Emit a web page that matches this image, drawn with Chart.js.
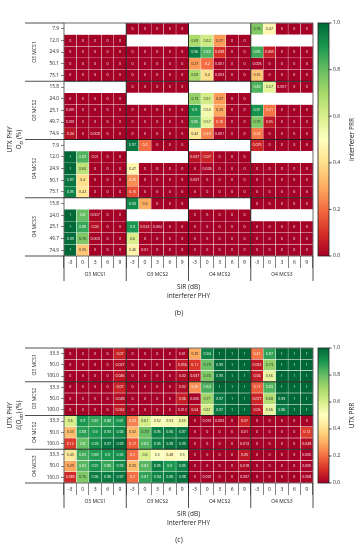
<!DOCTYPE html>
<html>
<head>
<meta charset="utf-8">
<script src="https://cdn.jsdelivr.net/npm/chart.js@4.4.0/dist/chart.umd.min.js"></script>
<style>
  html, body { margin: 0; padding: 0; background: #fff; }
  canvas { display: block; }
</style>
</head>
<body>
<canvas id="chartB" width="358" height="325"></canvas>
<canvas id="chartC" width="358" height="225"></canvas>
<script>
// axes
const sirLabels = ['-3', '0', '3', '6', '9'];
const phyGroups = ['O3 MCS1', 'O3 MCS2', 'O4 MCS2', 'O4 MCS3'];

// (b) frame occupancy of each UTX PHY row
const otxB = [
  ['7.9', '12.0', '24.9', '50.1', '75.1'],
  ['15.8', '24.0', '25.1', '49.7', '74.9'],
  ['7.9', '12.0', '24.9', '50.1', '75.1'],
  ['15.8', '24.0', '25.1', '49.7', '74.9']
];
// (c) expected occupancy per UTX PHY
const otxC = ['33.3', '50.0', '100.0'];

const _ = null; // not measured
// (b) interferer PRR, one row per UTX setting, columns = interferer PHY x SIR
const prrB = [
  [_, _, _, _, _,  0, 0, 0, 0, 0,  _, _, _, _, _,  0.76, 0.47, 0, 0, 0],
  [0, 0, 0, 0, 0,  _, _, _, _, _,  0.69, 0.62, 0.27, 0, 0,  _, _, _, _, _],
  [0, 0, 0, 0, 0,  0, 0, 0, 0, 0,  0.96, 0.83, 0.098, 0, 0,  0.85, 0.065, 0, 0, 0],
  [0, 0, 0, 0, 0,  0, 0, 0, 0, 0,  0.27, 0.2, 0.001, 0, 0,  0.005, 0, 0, 0, 0],
  [0, 0, 0, 0, 0,  0, 0, 0, 0, 0,  0.69, 0.4, 0.003, 0, 0,  0.35, 0, 0, 0, 0],

  [_, _, _, _, _,  0, 0, 0, 0, 0,  _, _, _, _, _,  0.83, 0.57, 0.007, 0, 0],
  [0, 0, 0, 0, 0,  _, _, _, _, _,  0.73, 0.61, 0.27, 0, 0,  _, _, _, _, _],
  [0.001, 0, 0, 0, 0,  0, 0, 0, 0, 0,  0.9, 0.53, 0.29, 0, 0,  0.91, 0.21, 0, 0, 0],
  [0.001, 0, 0, 0, 0,  0, 0, 0, 0, 0,  0.85, 0.57, 0.16, 0, 0,  0.76, 0.05, 0, 0, 0],
  [0.04, 0, 0.008, 0, 0,  0, 0, 0, 0, 0,  0.42, 0.23, 0.001, 0, 0,  0.22, 0, 0, 0, 0],

  [_, _, _, _, _,  0.97, 0.2, 0, 0, 0,  _, _, _, _, _,  0.075, 0, 0, 0, 0],
  [1, 0.83, 0.01, 0, 0,  _, _, _, _, _,  0.037, 0.07, 0, 0, 0,  _, _, _, _, _],
  [1, 0.66, 0, 0, 0,  0.47, 0, 0, 0, 0,  0, 0.005, 0, 0, 0,  0, 0, 0, 0, 0],
  [0.97, 0.4, 0, 0, 0,  0.25, 0, 0, 0, 0,  0.007, 0, 0, 0, 0,  0, 0, 0, 0, 0],
  [0.95, 0.42, 0, 0, 0,  0.15, 0, 0, 0, 0,  0, 0, 0, 0, 0,  0, 0, 0, 0, 0],

  [_, _, _, _, _,  0.93, 0.3, 0, 0, 0,  _, _, _, _, _,  0, 0, 0, 0, 0],
  [1, 0.8, 0.007, 0, 0,  _, _, _, _, _,  0, 0, 0, 0, 0,  _, _, _, _, _],
  [1, 0.86, 0.03, 0, 0,  0.9, 0.022, 0.002, 0, 0,  0, 0, 0, 0, 0,  0, 0, 0, 0, 0],
  [0.99, 0.76, 0.003, 0, 0,  0.6, 0, 0, 0, 0,  0, 0, 0, 0, 0,  0, 0, 0, 0, 0],
  [1, 0.35, 0, 0, 0,  0.46, 0.01, 0, 0, 0,  0, 0, 0, 0, 0,  0, 0, 0, 0, 0]
];

// (c) UTX PRR
const prrC = [
  [0, 0, 0, 0, 0.07,  0, 0, 0, 0, 0.01,  0.29, 0.94, 1, 1, 1,  0.21, 0.87, 1, 1, 1],
  [0, 0, 0, 0, 0.027,  0, 0, 0, 0, 0.056,  0.11, 0.79, 0.99, 1, 1,  0.052, 0.73, 1, 1, 1],
  [0, 0, 0, 0, 0.045,  0, 0, 0, 0, 0.02,  0.037, 0.76, 0.99, 1, 1,  0.06, 0.56, 1, 1, 1],
  [0, 0, 0, 0, 0.07,  0, 0, 0, 0, 0.02,  0.25, 0.84, 1, 1, 1,  0.17, 0.83, 1, 1, 1],
  [0, 0, 0, 0, 0.028,  0, 0, 0, 0, 0.06,  0.005, 0.71, 0.97, 1, 1,  0.077, 0.68, 0.99, 1, 1],
  [0, 0, 0, 0, 0.052,  0, 0, 0, 0, 0.012,  0.04, 0.61, 0.97, 1, 1,  0.05, 0.56, 0.96, 1, 1],
  [0.6, 0.9, 0.87, 0.88, 0.91,  0.23, 0.61, 0.52, 0.53, 0.55,  0, 0.001, 0.003, 0, 0.07,  0, 0, 0, 0, 0],
  [0.33, 0.88, 0.9, 0.93, 0.94,  0.32, 0.79, 0.95, 0.96, 0.97,  0, 0, 0, 0, 0.01,  0, 0, 0, 0, 0.12],
  [0.12, 0.8, 0.93, 0.97, 0.99,  0.17, 0.83, 0.95, 0.98, 0.99,  0, 0, 0, 0, 0.013,  0, 0, 0, 0, 0.028],
  [0.43, 0.85, 0.89, 0.9, 0.92,  0.2, 0.6, 0.5, 0.48, 0.5,  0, 0, 0, 0, 0.05,  0, 0, 0, 0, 0.005],
  [0.29, 0.82, 0.91, 0.86, 0.93,  0.33, 0.82, 0.95, 0.9, 0.95,  0, 0, 0, 0, 0.018,  0, 0, 0, 0, 0.005],
  [0.085, 0.76, 0.96, 0.96, 0.97,  0.2, 0.87, 0.94, 0.96, 0.98,  0, 0.001, 0, 0, 0.007,  0, 0, 0, 0, 0.008]
];

const FONT = "'Open Sans', 'DejaVu Sans', sans-serif";
Chart.defaults.font.family = FONT;
Chart.defaults.color = '#222';

// RdYlGn colormap
const rdylgnStops = ['#a50026', '#d73027', '#f46d43', '#fdae61', '#fee08b', '#ffffbf',
                     '#d9ef8b', '#a6d96a', '#66bd63', '#1a9850', '#006837'];
function hexRgb(h) {
  return [parseInt(h.slice(1, 3), 16), parseInt(h.slice(3, 5), 16), parseInt(h.slice(5, 7), 16)];
}
function rdylgnRgb(v) {
  const t = Math.max(0, Math.min(1, v)) * 10;
  const i = Math.min(9, Math.floor(t));
  const f = t - i;
  const a = hexRgb(rdylgnStops[i]), b = hexRgb(rdylgnStops[i + 1]);
  return a.map((c, k) => Math.round(c + (b[k] - c) * f));
}
function rdylgn(v) {
  const c = rdylgnRgb(v);
  return 'rgb(' + c.join(',') + ')';
}
function textOn(v) {
  const lin = rdylgnRgb(v).map(c => {
    c = c / 255;
    return c <= 0.03928 ? c / 12.92 : Math.pow((c + 0.055) / 1.055, 2.4);
  });
  const lum = 0.2126 * lin[0] + 0.7152 * lin[1] + 0.0722 * lin[2];
  return lum > 0.408 ? '#222' : '#fff';
}

function strokeLine(ctx, x1, y1, x2, y2) {
  ctx.beginPath();
  ctx.moveTo(x1, y1);
  ctx.lineTo(x2, y2);
  ctx.stroke();
}

// rotated text with subscript parts
function drawRich(ctx, parts, x, y, size) {
  ctx.save();
  ctx.translate(x, y);
  ctx.rotate(-Math.PI / 2);
  ctx.textBaseline = 'middle';
  ctx.textAlign = 'left';
  const fontOf = p => (p.it ? 'italic ' : '') + (p.sub ? size * 0.7 : size) + 'px ' + FONT;
  let total = 0;
  parts.forEach(p => { ctx.font = fontOf(p); total += ctx.measureText(p.t).width; });
  let cx = -total / 2;
  parts.forEach(p => {
    ctx.font = fontOf(p);
    ctx.fillText(p.t, cx, p.sub ? size * 0.3 : 0);
    cx += ctx.measureText(p.t).width;
  });
  ctx.restore();
}

const heatmapDecor = {
  id: 'heatmapDecor',
  afterDatasetsDraw(chart) {
    const ctx = chart.ctx;
    ctx.save();
    ctx.font = '3.6px ' + FONT;
    ctx.textAlign = 'center';
    ctx.textBaseline = 'middle';
    chart.data.datasets.forEach((ds, r) => {
      chart.getDatasetMeta(r).data.forEach((bar, j) => {
        const v = ds.vals[j];
        if (v === null) return;
        const c = bar.getCenterPoint();
        ctx.fillStyle = textOn(v);
        ctx.fillText(String(v), c.x, c.y);
      });
    });
    ctx.restore();
  },
  afterDraw(chart, args, o) {
    const ctx = chart.ctx;
    const a = chart.chartArea;
    const ys = chart.scales.y, cb = chart.scales.cb;
    const gs = chart.data.datasets.length / 4;
    const colW = a.width / 20;
    ctx.save();

    // thick lines between groups
    ctx.strokeStyle = 'rgba(15,15,15,0.9)';
    ctx.lineWidth = 1;
    for (let k = 1; k < 4; k++) {
      const y = ys.getPixelForValue(k * gs);
      const x = a.left + k * 5 * colW;
      strokeLine(ctx, a.left, y, a.right, y);
      strokeLine(ctx, x, a.top, x, a.bottom);
    }
    ctx.strokeStyle = '#444';
    ctx.lineWidth = 0.8;
    ctx.strokeRect(a.left, a.top, a.width, a.height);

    // brackets outside the grid
    ctx.strokeStyle = '#222';
    for (let k = 0; k <= 4; k++) {
      const y = ys.getPixelForValue(k * gs);
      strokeLine(ctx, 25, y, a.left, y);
      const x = a.left + k * 5 * colW;
      strokeLine(ctx, x, a.bottom, x, a.bottom + 25);
    }

    // group names
    ctx.fillStyle = '#222';
    ctx.font = '5px ' + FONT;
    ctx.textAlign = 'center';
    ctx.textBaseline = 'middle';
    for (let k = 0; k < 4; k++) {
      ctx.fillText(phyGroups[k], a.left + (k * 5 + 2.5) * colW, a.bottom + 19);
      ctx.save();
      ctx.translate(35, ys.getPixelForValue((k + 0.5) * gs));
      ctx.rotate(-Math.PI / 2);
      ctx.fillText(phyGroups[k], 0, 0);
      ctx.restore();
    }

    // y axis title
    const midY = (a.top + a.bottom) / 2;
    drawRich(ctx, [{ t: 'UTX PHY' }], 10, midY, 6.5);
    drawRich(ctx, o.yTitle, 19.5, midY, 6.5);

    // colorbar
    const bx = a.right + 5, bw = 11;
    const y0 = cb.getPixelForValue(0), y1 = cb.getPixelForValue(1);
    const g = ctx.createLinearGradient(0, y0, 0, y1);
    rdylgnStops.forEach((c, i) => g.addColorStop(i / 10, c));
    ctx.fillStyle = g;
    ctx.fillRect(bx, y1, bw, y0 - y1);
    ctx.strokeStyle = '#222';
    ctx.lineWidth = 0.8;
    ctx.strokeRect(bx, y1, bw, y0 - y1);
    cb.ticks.forEach(t => {
      const y = cb.getPixelForValue(t.value);
      strokeLine(ctx, bx + bw, y, bx + bw + 2.5, y);
    });
    ctx.fillStyle = '#222';
    drawRich(ctx, [{ t: o.cbTitle }], 352, midY, 6.5);

    // caption
    ctx.font = '7px ' + FONT;
    ctx.textAlign = 'center';
    ctx.textBaseline = 'middle';
    ctx.fillText(o.caption, chart.width / 2, chart.height - o.capOffset);
    ctx.restore();
  }
};

function buildHeatmap(canvasId, rowLabels, values, o) {
  const nRows = values.length;
  const xLabels = phyGroups.flatMap(() => sirLabels);
  const datasets = values.map((row, r) => ({
    data: row.map(v => v === null ? null : [r, r + 1]),
    vals: row,
    backgroundColor: row.map(v => v === null ? 'rgba(0,0,0,0)' : rdylgn(v)),
    borderColor: 'rgba(255,255,255,0.45)',
    borderWidth: 0.5,
    borderSkipped: false,
    grouped: false,
    barPercentage: 1,
    categoryPercentage: 1
  }));

  return new Chart(document.getElementById(canvasId), {
    type: 'bar',
    data: { labels: xLabels, datasets: datasets },
    options: {
      responsive: false,
      animation: false,
      layout: { padding: { top: o.top, left: 0, right: 0, bottom: 0 } },
      plugins: {
        legend: { display: false },
        tooltip: { enabled: false },
        heatmapDecor: o
      },
      scales: {
        x: {
          type: 'category',
          offset: true,
          grid: { offset: true, drawOnChartArea: false, tickLength: 12, color: '#333', lineWidth: 0.6 },
          border: { display: false },
          ticks: { font: { size: 5 }, padding: -8, maxRotation: 0, autoSkip: false },
          afterFit: s => { s.height = o.xHeight; },
          title: {
            display: true,
            text: ['SIR (dB)', 'Interferer PHY'],
            font: { size: 6.5, lineHeight: 1.45 },
            padding: { top: 0, bottom: o.titlePad }
          }
        },
        y: {
          type: 'linear',
          min: 0,
          max: nRows,
          reverse: true,
          afterBuildTicks: s => { s.ticks = rowLabels.map((l, i) => ({ value: i + 0.5 })); },
          afterFit: s => { s.width = 64; },
          grid: { drawOnChartArea: false, tickLength: 3, color: '#333', lineWidth: 0.6 },
          border: { display: false },
          ticks: { callback: (v, i) => rowLabels[i], font: { size: 4.8 }, padding: 2, autoSkip: false }
        },
        cb: {
          type: 'linear',
          position: 'right',
          min: 0,
          max: 1,
          afterFit: s => { s.width = 45; },
          grid: { drawOnChartArea: false, drawTicks: false },
          border: { display: false },
          ticks: { stepSize: 0.2, callback: v => v.toFixed(1), font: { size: 5 }, padding: 20 }
        }
      }
    },
    plugins: [heatmapDecor]
  });
}

buildHeatmap('chartB', otxB.flat(), prrB, {
  top: 9, xHeight: 69, titlePad: 24, capOffset: 12,
  cbTitle: 'Interferer PRR', caption: '(b)',
  yTitle: [{ t: 'O', it: true }, { t: 'tx', it: true, sub: true }, { t: ' (%)' }]
});

buildHeatmap('chartC', phyGroups.flatMap(() => otxC), prrC, {
  top: 10, xHeight: 67, titlePad: 22, capOffset: 10,
  cbTitle: 'UTX PRR', caption: '(c)',
  yTitle: [{ t: '\u2130(' }, { t: 'O', it: true }, { t: 'utx', it: true, sub: true }, { t: ') (%)' }]
});
</script>
</body>
</html>
